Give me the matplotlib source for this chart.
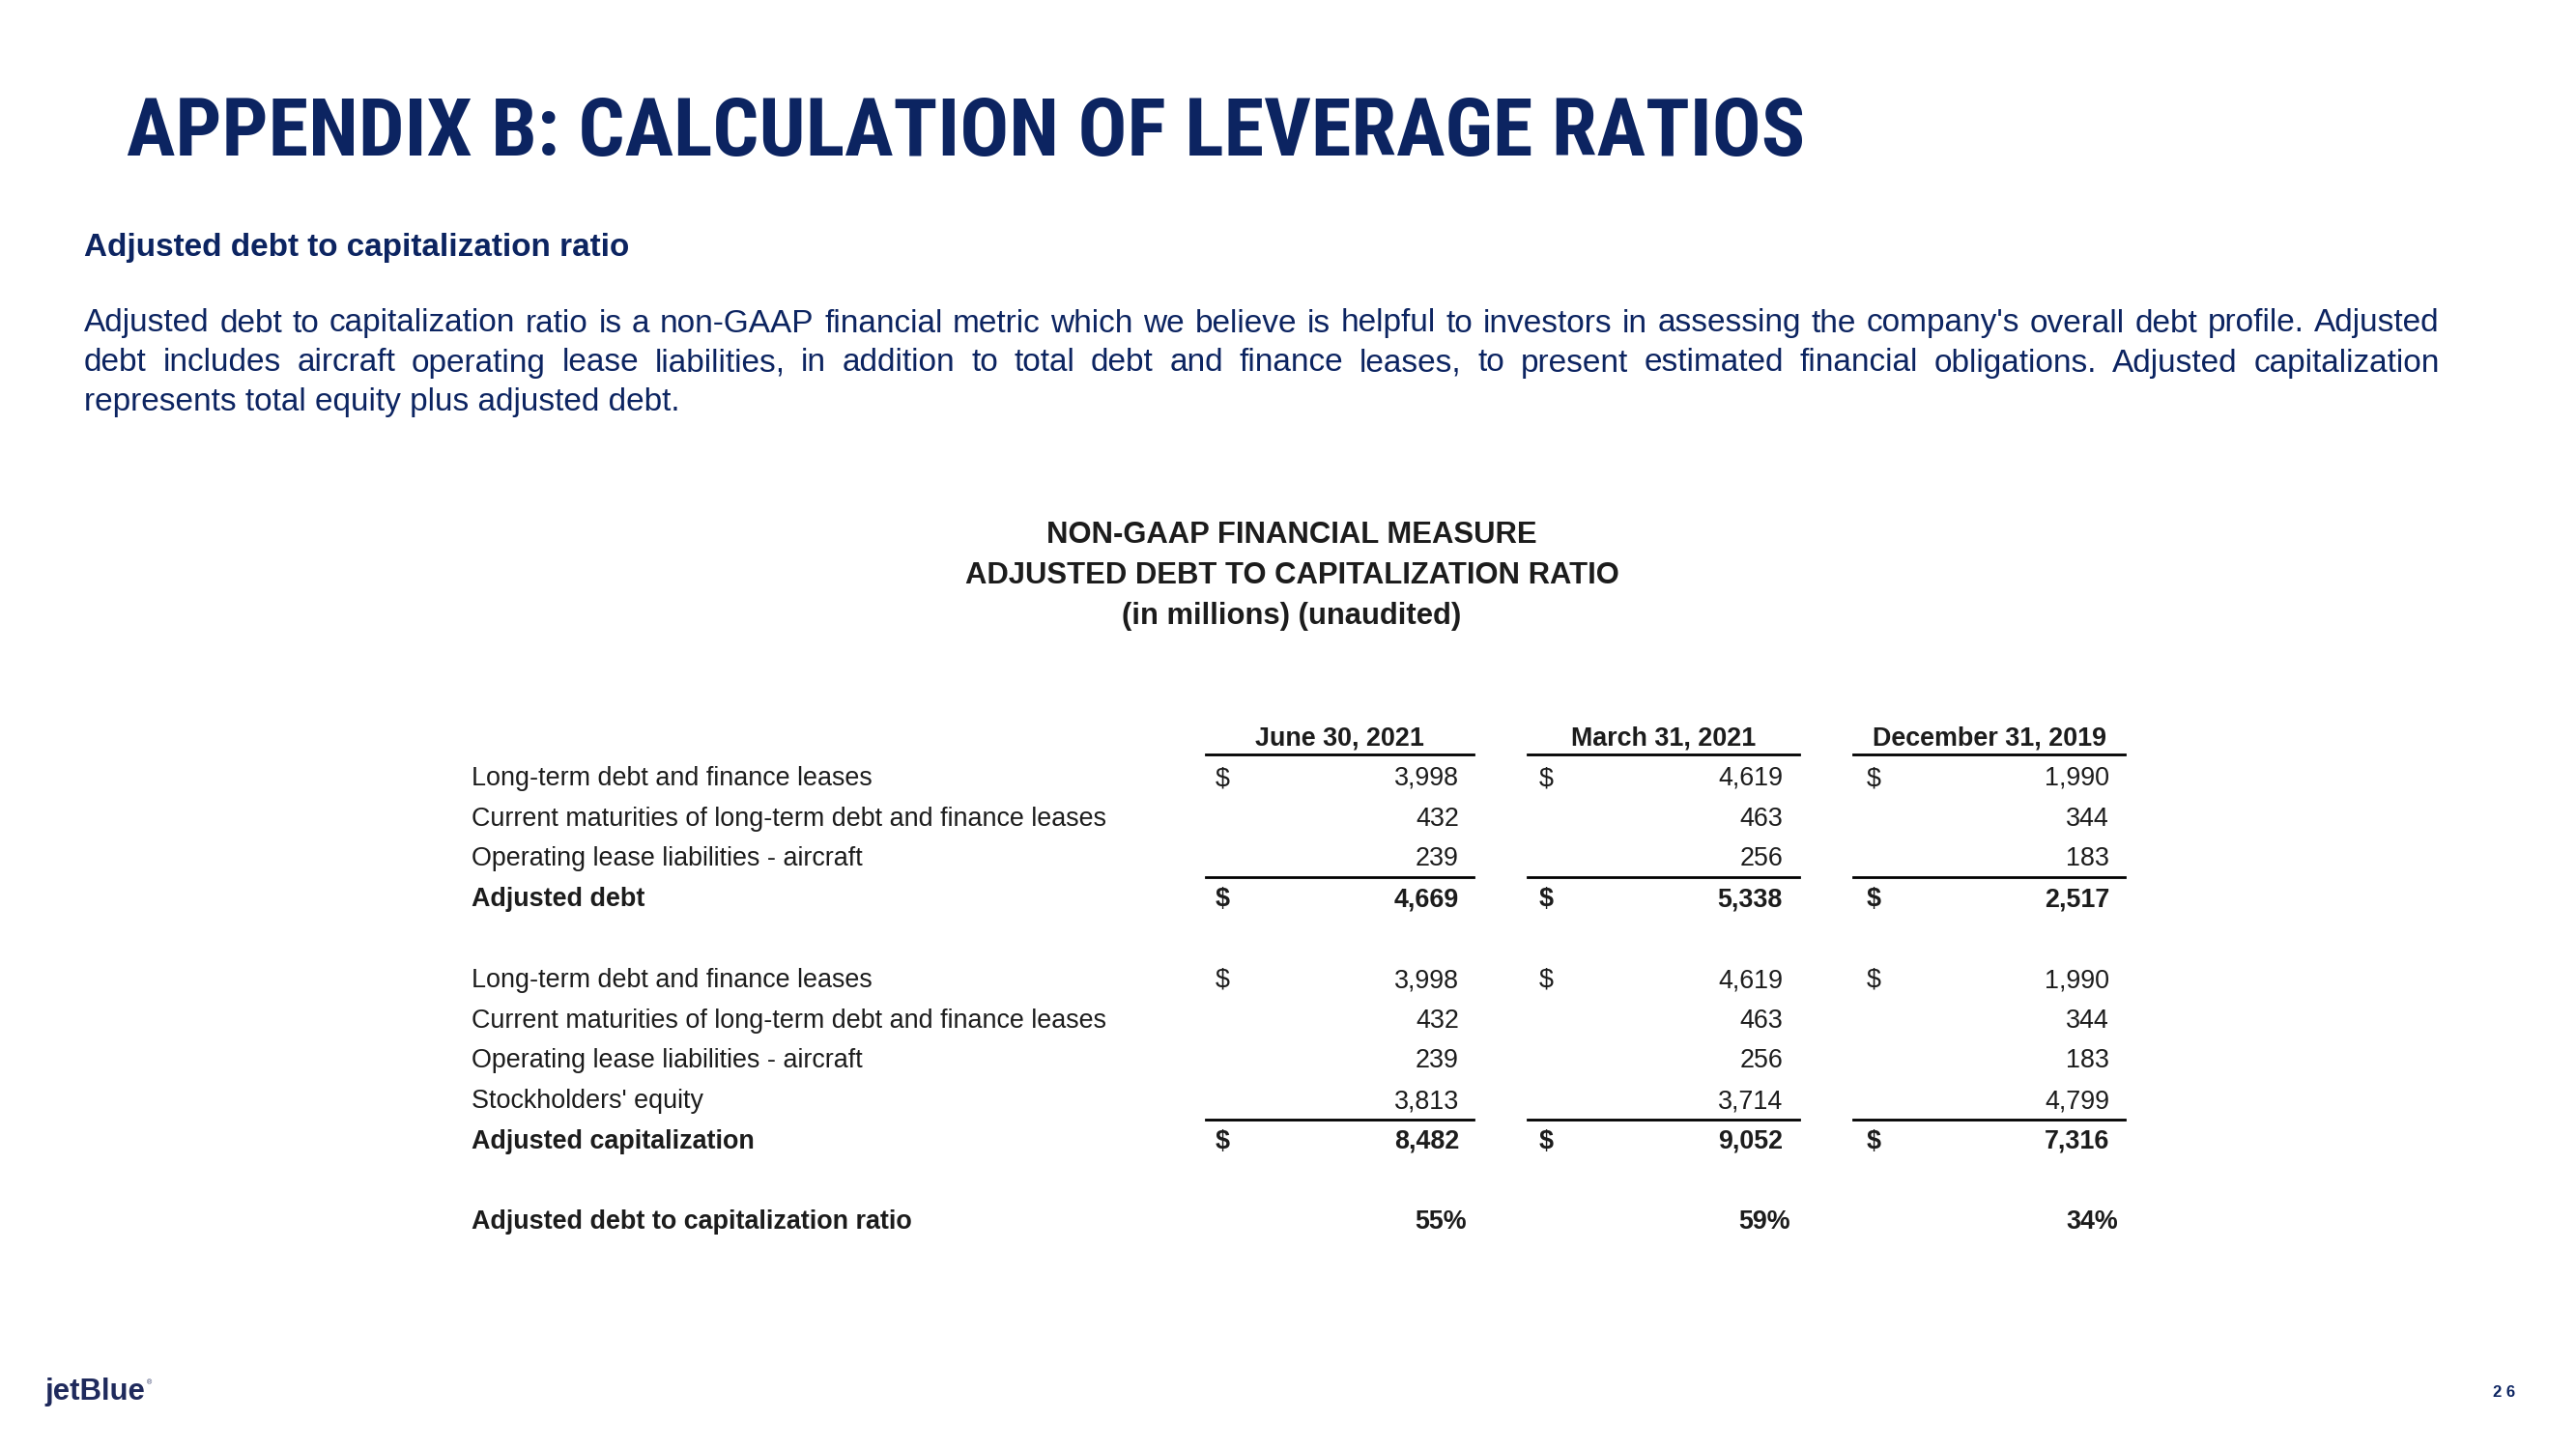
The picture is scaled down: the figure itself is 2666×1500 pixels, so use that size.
import matplotlib
matplotlib.use("Agg")
import matplotlib.pyplot as plt
from matplotlib import font_manager

# slide size in pixels
W, H = 2666, 1500

NAVY = "#0c2461"
TEXT = "#1c1c1c"
SANS = ["Liberation Sans", "Arial", "DejaVu Sans"]

# pick a narrow face for the title if one is installed
names = {f.name for f in font_manager.fontManager.ttflist}
cond_family, cond_stretch = "Liberation Sans", "normal"
for n in ["Liberation Sans Narrow", "Roboto Condensed", "Open Sans Condensed", "DejaVu Sans Condensed"]:
    if n in names:
        cond_family = n
        break
else:
    for f in font_manager.fontManager.ttflist:
        if f.name in ("Roboto", "Open Sans", "DejaVu Sans") and f.stretch in ("condensed", "semi-condensed"):
            cond_family, cond_stretch = f.name, f.stretch
            break

# --- texts ---
title = "APPENDIX B: CALCULATION OF LEVERAGE RATIOS"
subtitle = "Adjusted debt to capitalization ratio"
paragraph_lines = [
    "Adjusted debt to capitalization ratio is a non-GAAP financial metric which we believe is helpful to investors in assessing the company's overall debt profile. Adjusted",
    "debt includes aircraft operating lease liabilities, in addition to total debt and finance leases, to present estimated financial obligations. Adjusted capitalization",
    "represents total equity plus adjusted debt.",
]
table_heading = [
    "NON-GAAP FINANCIAL MEASURE",
    "ADJUSTED DEBT TO CAPITALIZATION RATIO",
    "(in millions) (unaudited)",
]

# --- data ---
periods = ["June 30, 2021", "March 31, 2021", "December 31, 2019"]
lt_debt = [3998, 4619, 1990]
current_maturities = [432, 463, 344]
op_lease_aircraft = [239, 256, 183]
adjusted_debt = [4669, 5338, 2517]
stockholders_equity = [3813, 3714, 4799]
adjusted_capitalization = [8482, 9052, 7316]
debt_to_cap_ratio = [55, 59, 34]

block1 = [
    ("Long-term debt and finance leases", lt_debt, True, False),
    ("Current maturities of long-term debt and finance leases", current_maturities, False, False),
    ("Operating lease liabilities - aircraft", op_lease_aircraft, False, False),
    ("Adjusted debt", adjusted_debt, True, True),
]
block2 = [
    ("Long-term debt and finance leases", lt_debt, True, False),
    ("Current maturities of long-term debt and finance leases", current_maturities, False, False),
    ("Operating lease liabilities - aircraft", op_lease_aircraft, False, False),
    ("Stockholders' equity", stockholders_equity, False, False),
    ("Adjusted capitalization", adjusted_capitalization, True, True),
]

fig = plt.figure(figsize=(W / 100, H / 100), dpi=100)
ax = fig.add_axes([0, 0, 1, 1])
ax.set_xlim(0, W)
ax.set_ylim(H, 0)
ax.axis("off")
renderer = fig.canvas.get_renderer()


def text_width(s, size, family, weight="normal", stretch="normal"):
    t = ax.text(0, 0, s, fontsize=size, family=family, weight=weight, stretch=stretch)
    w = t.get_window_extent(renderer).width
    t.remove()
    return w


def fit(s, target, family, weight="normal", stretch="normal"):
    return 20 * target / text_width(s, 20, family, weight, stretch)


def justify(line, x0, x1, y, size, family, color):
    words = line.split(" ")
    widths = [text_width(w, size, family) for w in words]
    gap = (x1 - x0 - sum(widths)) / (len(words) - 1)
    x = x0
    for w, ww in zip(words, widths):
        ax.text(x, y, w, fontsize=size, family=family, color=color, va="center")
        x += ww + gap


# title + intro
ax.text(131, 139, title, fontsize=fit(title, 1736, cond_family, "bold", cond_stretch),
        family=cond_family, stretch=cond_stretch, weight="bold", color=NAVY, va="center")
ax.text(87, 256, subtitle, fontsize=fit(subtitle, 563, SANS, "bold"), family=SANS,
        weight="bold", color=NAVY, va="center")

para_size = fit(paragraph_lines[2], 615, SANS)
para_y = [335, 376, 417]
for i, line in enumerate(paragraph_lines):
    if i < 2:
        justify(line, 87, 2525, para_y[i], para_size, SANS, NAVY)
    else:
        ax.text(87, para_y[i], line, fontsize=para_size, family=SANS, color=NAVY, va="center")

# table heading
head_size = fit(table_heading[1], 675, SANS, "bold")
for i, line in enumerate(table_heading):
    ax.text(1337, 554 + 42 * i, line, fontsize=head_size, family=SANS, weight="bold",
            color=TEXT, ha="center", va="center")

# table layout
label_x = 488
col_left = [1248, 1581, 1918]
col_right = [1525, 1862, 2199]
dollar_x = [1258, 1593, 1932]
num_right = [1510, 1845, 2183]
pct_right = [1518, 1853, 2192]
row_step = 41.7
tsize = fit("Current maturities of long-term debt and finance leases", 655, SANS)

for j, p in enumerate(periods):
    cx = (col_left[j] + col_right[j]) / 2
    ax.text(cx, 765, p, fontsize=tsize, family=SANS, weight="bold", color=TEXT,
            ha="center", va="center")
    ax.plot([col_left[j], col_right[j]], [781, 781], color="black", lw=2)


def draw_block(rows, y0):
    for i, (label, vals, dollar, bold) in enumerate(rows):
        y = y0 + i * row_step
        wt = "bold" if bold else "normal"
        ax.text(label_x, y, label, fontsize=tsize, family=SANS, weight=wt, color=TEXT, va="center")
        for j, v in enumerate(vals):
            ax.text(num_right[j], y, f"{v:,}", fontsize=tsize, family=SANS, weight=wt,
                    color=TEXT, ha="right", va="center")
            if dollar:
                ax.text(dollar_x[j], y, "$", fontsize=tsize, family=SANS, weight=wt,
                        color=TEXT, va="center")
        if bold:
            yl = y - row_step / 2 - 2
            for j in range(len(vals)):
                ax.plot([col_left[j], col_right[j]], [yl, yl], color="black", lw=2)


draw_block(block1, 806)
draw_block(block2, 1015)

ax.text(label_x, 1265, "Adjusted debt to capitalization ratio", fontsize=tsize, family=SANS,
        weight="bold", color=TEXT, va="center")
for j, r in enumerate(debt_to_cap_ratio):
    ax.text(pct_right[j], 1265, f"{r}%", fontsize=tsize, family=SANS, weight="bold",
            color=TEXT, ha="right", va="center")

# footer
logo_size = fit("jetBlue", 104, SANS, "bold")
logo_w = text_width("jetBlue", logo_size, SANS, "bold")
ax.text(46, 1441, "jetBlue", fontsize=logo_size, family=SANS,
        weight="bold", color="#1f2a5c", va="center")
ax.text(46 + logo_w + 2, 1432, "®", fontsize=5, family=SANS, color="#1f2a5c", va="center")
ax.text(2592, 1442, "2 6", fontsize=12, family=SANS, weight="bold", color=NAVY,
        ha="center", va="center")

fig.savefig("out.png", dpi=100, facecolor="white")
